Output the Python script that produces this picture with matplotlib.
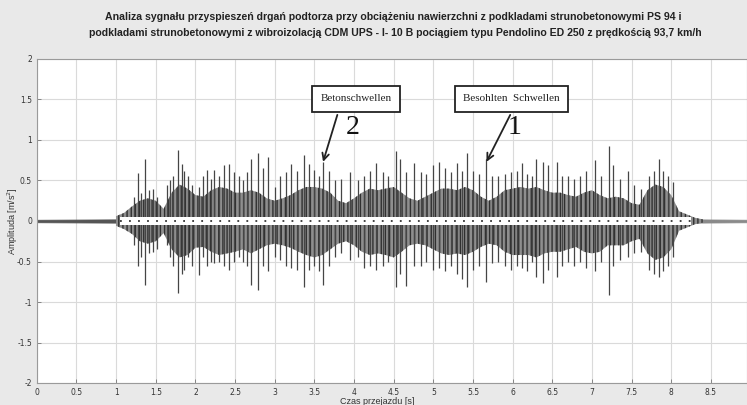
import matplotlib
matplotlib.use("Agg")
import matplotlib.pyplot as plt
import numpy as np

# ---------------- data ----------------
title_line1 = "Analiza sygnału przyspieszeń drgań podtorza przy obciążeniu nawierzchni z podkladami strunobetonowymi PS 94 i"
title_line2 = "podkladami strunobetonowymi z wibroizolacją CDM UPS - I- 10 B pociągiem typu Pendolino ED 250 z prędkością 93,7 km/h"
x_label = "Czas przejazdu [s]"
y_label = "Amplituda [m/s$^2$]"

x_ticks = [0, 0.5, 1, 1.5, 2, 2.5, 3, 3.5, 4, 4.5, 5, 5.5, 6, 6.5, 7, 7.5, 8, 8.5]
x_tick_labels = ["0", "0.5", "1", "1.5", "2", "2.5", "3", "3.5", "4", "4.5",
                 "5", "5.5", "6", "6.5", "7", "7.5", "8", "8.5"]
y_ticks = [-2, -1.5, -1, -0.5, 0, 0.5, 1, 1.5, 2]
y_tick_labels = ["-2", "-1.5", "-1", "-0.5", "0", "0.5", "1", "1.5", "2"]

# dense core envelope of the vibration signal
env_t = [1.0, 1.1, 1.2, 1.3, 1.4, 1.5, 1.6, 1.7, 1.8, 1.9,
         2.0, 2.1, 2.2, 2.3, 2.4, 2.5, 2.6, 2.7, 2.8, 2.9,
         3.0, 3.1, 3.2, 3.3, 3.4, 3.5, 3.6, 3.7, 3.8, 3.9,
         4.0, 4.1, 4.2, 4.3, 4.4, 4.5, 4.6, 4.7, 4.8, 4.9,
         5.0, 5.1, 5.2, 5.3, 5.4, 5.5, 5.6, 5.7, 5.8, 5.9,
         6.0, 6.1, 6.2, 6.3, 6.4, 6.5, 6.6, 6.7, 6.8, 6.9,
         7.0, 7.1, 7.2, 7.3, 7.4, 7.5, 7.6, 7.7, 7.8, 7.9,
         8.0, 8.1, 8.2, 8.3, 8.4]
env_hi = [0.06, 0.10, 0.18, 0.25, 0.28, 0.25, 0.15, 0.35, 0.45, 0.40,
          0.32, 0.30, 0.38, 0.42, 0.40, 0.35, 0.35, 0.38, 0.35, 0.28,
          0.25, 0.28, 0.32, 0.38, 0.42, 0.42, 0.40, 0.35, 0.25, 0.22,
          0.28, 0.35, 0.40, 0.38, 0.40, 0.42, 0.35, 0.28, 0.25, 0.30,
          0.35, 0.40, 0.40, 0.38, 0.42, 0.38, 0.30, 0.25, 0.30, 0.38,
          0.40, 0.42, 0.40, 0.42, 0.38, 0.35, 0.35, 0.32, 0.30, 0.35,
          0.38, 0.32, 0.28, 0.30, 0.28, 0.22, 0.20, 0.38, 0.45, 0.42,
          0.32, 0.12, 0.08, 0.04, 0.02]
env_lo = [-0.06, -0.10, -0.16, -0.25, -0.28, -0.25, -0.15, -0.35, -0.45, -0.42,
          -0.33, -0.32, -0.38, -0.42, -0.40, -0.38, -0.35, -0.40, -0.35, -0.30,
          -0.28, -0.30, -0.33, -0.38, -0.42, -0.45, -0.42, -0.35, -0.28, -0.25,
          -0.30, -0.38, -0.42, -0.40, -0.42, -0.45, -0.38, -0.30, -0.28, -0.30,
          -0.35, -0.40, -0.42, -0.40, -0.42, -0.38, -0.32, -0.28, -0.30, -0.38,
          -0.42, -0.42, -0.42, -0.45, -0.40, -0.38, -0.38, -0.35, -0.32, -0.38,
          -0.40, -0.38, -0.30, -0.30, -0.30, -0.25, -0.22, -0.40, -0.48, -0.45,
          -0.35, -0.12, -0.08, -0.04, -0.02]

# individual peaks (time, max, min)
spike_t = [1.22, 1.27, 1.32, 1.36, 1.42, 1.47, 1.52, 1.64, 1.68, 1.72,
           1.78, 1.83, 1.86, 1.91, 1.96, 2.04, 2.10, 2.15, 2.20, 2.24,
           2.30, 2.36, 2.43, 2.49, 2.55, 2.60, 2.65, 2.70, 2.79, 2.85,
           2.92, 3.00, 3.07, 3.14, 3.20, 3.28, 3.37, 3.43, 3.50, 3.56,
           3.61, 3.68, 3.76, 3.84, 3.95, 4.05, 4.13, 4.20, 4.28, 4.36,
           4.43, 4.53, 4.58, 4.66, 4.76, 4.84, 4.91, 4.99, 5.07, 5.15,
           5.22, 5.30, 5.36, 5.42, 5.50, 5.58, 5.66, 5.74, 5.82, 5.90,
           5.98, 6.05, 6.12, 6.18, 6.24, 6.30, 6.38, 6.45, 6.56, 6.62,
           6.70, 6.78, 6.85, 6.93, 7.04, 7.12, 7.21, 7.27, 7.35, 7.45,
           7.53, 7.62, 7.72, 7.78, 7.84, 7.90, 7.96, 8.02]
spike_hi = [0.30, 0.59, 0.35, 0.77, 0.38, 0.40, 0.30, 0.45, 0.50, 0.55,
            0.88, 0.70, 0.62, 0.55, 0.45, 0.42, 0.55, 0.63, 0.52, 0.63,
            0.55, 0.69, 0.70, 0.60, 0.55, 0.50, 0.60, 0.77, 0.84, 0.65,
            0.79, 0.42, 0.55, 0.60, 0.70, 0.62, 0.82, 0.70, 0.63, 0.55,
            0.73, 0.62, 0.50, 0.52, 0.60, 0.50, 0.55, 0.62, 0.71, 0.60,
            0.55, 0.86, 0.77, 0.60, 0.71, 0.60, 0.58, 0.69, 0.73, 0.65,
            0.60, 0.71, 0.62, 0.84, 0.62, 0.58, 0.76, 0.55, 0.55, 0.58,
            0.60, 0.62, 0.71, 0.58, 0.55, 0.77, 0.73, 0.69, 0.73, 0.55,
            0.55, 0.52, 0.55, 0.62, 0.75, 0.55, 0.92, 0.69, 0.52, 0.62,
            0.45, 0.40, 0.55, 0.62, 0.76, 0.62, 0.55, 0.48]
spike_lo = [-0.30, -0.56, -0.45, -0.79, -0.40, -0.38, -0.35, -0.30, -0.45, -0.55,
            -0.89, -0.65, -0.60, -0.45, -0.55, -0.67, -0.45, -0.55, -0.50, -0.52,
            -0.50, -0.55, -0.60, -0.50, -0.45, -0.50, -0.55, -0.79, -0.85, -0.55,
            -0.62, -0.45, -0.48, -0.55, -0.58, -0.60, -0.82, -0.60, -0.55, -0.62,
            -0.79, -0.55, -0.45, -0.40, -0.48, -0.45, -0.58, -0.55, -0.60, -0.55,
            -0.50, -0.82, -0.65, -0.80, -0.55, -0.55, -0.50, -0.60, -0.58, -0.62,
            -0.55, -0.65, -0.72, -0.82, -0.60, -0.55, -0.75, -0.52, -0.50, -0.55,
            -0.60, -0.55, -0.58, -0.62, -0.50, -0.69, -0.77, -0.60, -0.69, -0.55,
            -0.50, -0.55, -0.50, -0.58, -0.62, -0.50, -0.91, -0.55, -0.48, -0.45,
            -0.40, -0.38, -0.60, -0.65, -0.69, -0.62, -0.55, -0.45]

# quiet (pre/post train) signal level and near-zero band
quiet_t = [0.0, 1.0, 8.3, 9.0]
quiet_amp = [0.015, 0.02, 0.02, 0.015]
band_t = [1.05, 8.25]
band_half = [0.05, 0.05]

labels = ["Betonschwellen", "Besohlten  Schwellen"]
label_pos = [(4.03, 1.51), (5.99, 1.51)]
arrow_start = [(3.79, 1.31), (5.97, 1.31)]
arrow_end = [(3.61, 0.73), (5.67, 0.73)]
numbers = ["2", "1"]
number_pos = [(3.98, 1.16), (6.03, 1.16)]

# ---------------- figure ----------------
plt.rcParams["hatch.linewidth"] = 1.0
W, H = 747, 405
fig = plt.figure(figsize=(W / 100, H / 100), dpi=100)
fig.patch.set_facecolor("#e9e9e9")

ax_left = 36.8 / W
ax_bottom = (H - 383) / H
ax_height = (383 - 59) / H
ax = fig.add_axes([ax_left, ax_bottom, 1.0 - ax_left, ax_height])
ax.set_facecolor("white")
ax.set_xlim(0, (W - 36.8) / 79.3)
ax.set_ylim(-2, 2)

ax.set_xticks(x_ticks)
ax.set_xticklabels(x_tick_labels)
ax.set_yticks(y_ticks)
ax.set_yticklabels(y_tick_labels)
ax.tick_params(direction="in", length=3, width=0.6, colors="#777777",
               labelsize=5.5, labelcolor="#333333", pad=3.5)
ax.grid(True, color="#dadada", linewidth=0.8, linestyle="-")
ax.set_axisbelow(True)
for s in ax.spines.values():
    s.set_color("#9a9a9a")
    s.set_linewidth(0.8)

# quiet signal
qt = np.array(quiet_t)
qa = np.array(quiet_amp)
ax.fill_between(qt[:2], -qa[:2], qa[:2], color="#555555", linewidth=0.6, zorder=2)
ax.fill_between(qt[2:], -qa[2:], qa[2:], color="#8a8a8a", linewidth=0.6, zorder=2)

# dense core (textured with vertical strokes)
ax.fill_between(env_t, env_lo, env_hi, facecolor="#8e8e8e", edgecolor="#303030",
                hatch="||||", linewidth=0, zorder=2)
# peaks
ax.vlines(spike_t, spike_lo, spike_hi, colors="#454545", linewidth=0.9, zorder=3)

# near-zero light band with dark speckles
bt = np.array(band_t)
bh = np.array(band_half)
ax.fill_between(bt, -bh, bh, color="white", linewidth=0, zorder=4)
ax.plot(bt, [0, 0], color="#333333", linewidth=1.3, linestyle=(0, (1, 4)), zorder=5)

# annotations
for txt, (bx, by) in zip(labels, label_pos):
    ax.text(bx, by, txt, ha="center", va="center", fontsize=8,
            family="Liberation Serif", color="#222222", zorder=6,
            bbox=dict(boxstyle="square,pad=0.75", facecolor="white",
                      edgecolor="#222222", linewidth=1.3))
for (sx, sy), (ex, ey) in zip(arrow_start, arrow_end):
    ax.annotate("", xy=(ex, ey), xytext=(sx, sy), zorder=6,
                arrowprops=dict(arrowstyle="->", color="#222222", lw=1.3,
                                mutation_scale=12, shrinkA=0, shrinkB=0))
for n, (nx, ny) in zip(numbers, number_pos):
    ax.text(nx, ny, n, ha="center", va="center", fontsize=20,
            family="Liberation Serif", color="#111111", zorder=6)

# titles and axis labels
fig.text(393 / W, 1 - 17.5 / H, title_line1, ha="center", va="center",
         fontsize=7.6, fontweight="bold", family="Liberation Sans", color="#222222")
fig.text(395 / W, 1 - 32.5 / H, title_line2, ha="center", va="center",
         fontsize=7.6, fontweight="bold", family="Liberation Sans", color="#222222")
fig.text(377 / W, 1 - 401 / H, x_label, ha="center", va="center",
         fontsize=6.5, family="Liberation Sans", color="#333333")
fig.text(13 / W, 1 - 221 / H, y_label, ha="center", va="center", rotation=90,
         fontsize=6.5, family="Liberation Sans", color="#333333")

fig.savefig("out.png", dpi=100, facecolor=fig.get_facecolor())
